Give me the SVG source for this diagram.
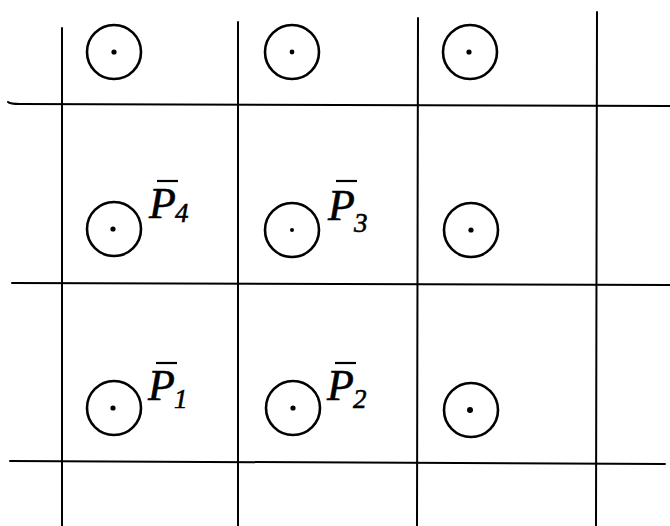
<svg xmlns="http://www.w3.org/2000/svg" width="670" height="526" viewBox="0 0 670 526">
<style>
.grid{stroke:#000;stroke-width:2;fill:none;stroke-linecap:round}
.ring{stroke:#000;stroke-width:2.6;fill:none}
.dot{fill:#000}
.lbl{font-family:"Liberation Serif",serif;font-style:italic;fill:#000;stroke:#000;stroke-width:0.6}
.bar{stroke:#000;stroke-width:2.2}
</style>
<rect width="670" height="526" fill="#fff"/>
<g id="connectors">
<path class="grid" d="M8,102 Q10,104 20,104 L670,106"/>
<path class="grid" d="M12,283 L670,285"/>
<path class="grid" d="M10,461 L665,464"/>
<path class="grid" d="M62,28 L62,526"/>
<path class="grid" d="M238,22 L238,526"/>
<path class="grid" d="M418,18 L417,526"/>
<path class="grid" d="M597,12 L596,526"/>
</g>
<g id="n1"><circle class="ring" cx="114" cy="52" r="27"/><circle class="dot" cx="114" cy="52" r="2.6"/></g>
<g id="n2"><circle class="ring" cx="292" cy="52" r="27"/><circle class="dot" cx="292" cy="52" r="2.4"/></g>
<g id="n3"><circle class="ring" cx="470" cy="52" r="27"/><circle class="dot" cx="469" cy="52" r="2.6"/></g>
<g id="n4"><circle class="ring" cx="114" cy="229" r="27"/><circle class="dot" cx="113" cy="229" r="2.6"/></g>
<g id="n5"><circle class="ring" cx="292" cy="230" r="27"/><circle class="dot" cx="292" cy="230" r="2"/></g>
<g id="n6"><circle class="ring" cx="471" cy="230" r="27"/><circle class="dot" cx="471" cy="230" r="2.6"/></g>
<g id="n7"><circle class="ring" cx="114" cy="408" r="27"/><circle class="dot" cx="113" cy="408" r="2.6"/></g>
<g id="n8"><circle class="ring" cx="293" cy="408" r="27"/><circle class="dot" cx="293" cy="408" r="2.6"/></g>
<g id="n9"><circle class="ring" cx="471" cy="410" r="27"/><circle class="dot" cx="470" cy="410" r="3"/></g>
<g id="lbl4"><line class="bar" x1="157" y1="181" x2="178" y2="181"/><text class="lbl" x="149" y="218" font-size="44">P<tspan font-size="27" dx="-1" dy="4">4</tspan></text></g>
<g id="lbl3"><line class="bar" x1="336" y1="181" x2="357" y2="181"/><text class="lbl" x="328" y="220" font-size="44">P<tspan font-size="27" dx="-1" dy="12">3</tspan></text></g>
<g id="lbl1"><line class="bar" x1="156" y1="363" x2="177" y2="363"/><text class="lbl" x="148" y="400" font-size="44">P<tspan font-size="27" dx="-1" dy="8">1</tspan></text></g>
<g id="lbl2"><line class="bar" x1="335" y1="363" x2="356" y2="363"/><text class="lbl" x="327" y="400" font-size="44">P<tspan font-size="27" dx="-1" dy="8">2</tspan></text></g>
</svg>
